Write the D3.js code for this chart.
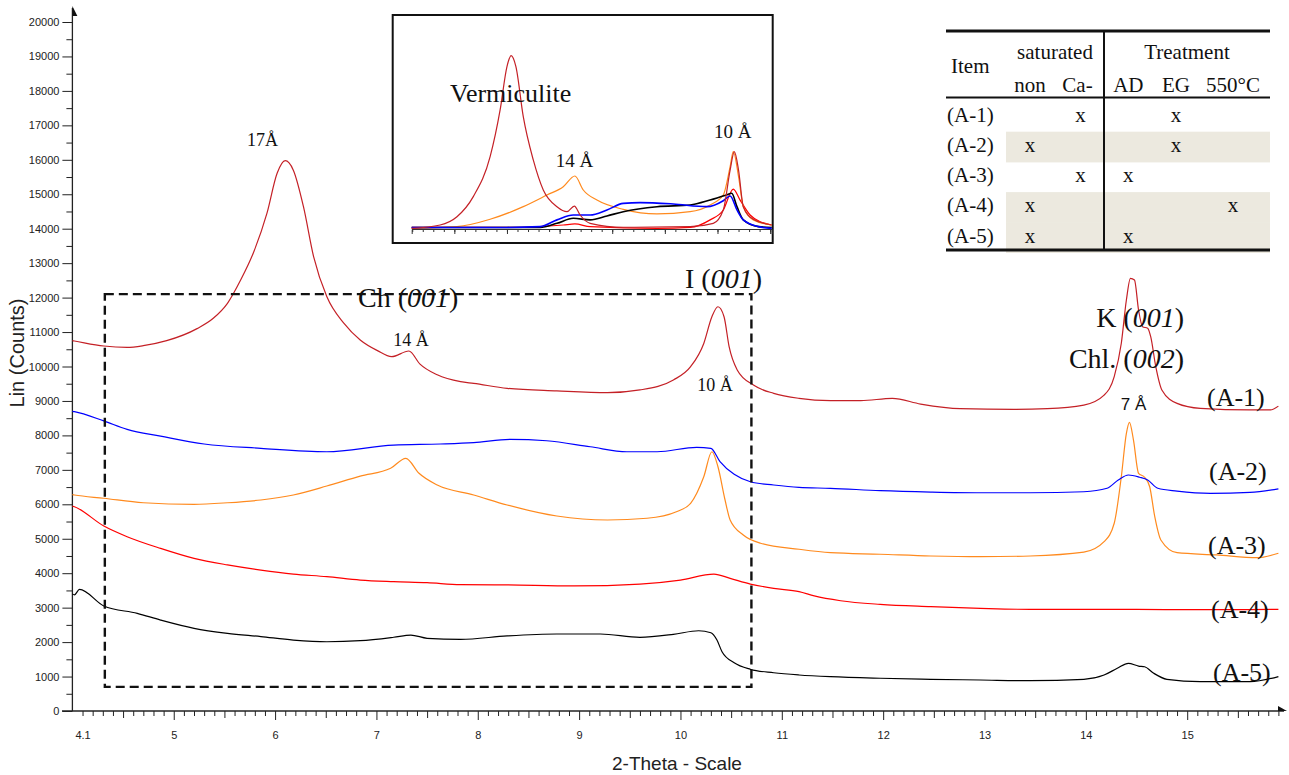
<!DOCTYPE html>
<html><head><meta charset="utf-8">
<script src="https://cdn.jsdelivr.net/npm/d3@7"></script>
<style>body{margin:0;background:#fff}svg{display:block}</style>
</head><body><svg id="c" width="1289" height="775"></svg>
<script>
// ---------- DATA ----------
const seriesNames = ["(A-1)", "(A-2)", "(A-3)", "(A-4)", "(A-5)"];
const seriesColors = ["#c42026", "#0000ff", "#ff8a1e", "#ff0000", "#000000"];

// main pattern: [2-theta, counts]
const a1 = [[4.0,10750],[4.02,10740],[4.31,10595],[4.54,10557],[4.70,10605],[4.93,10750],[5.23,11100],[5.39,11400],[5.53,11835],[5.66,12510],[5.79,13330],[5.92,14450],[6.02,15610],[6.10,15975],[6.18,15700],[6.28,14640],[6.38,13190],[6.51,12030],[6.68,11250],[6.84,10770],[7.01,10460],[7.15,10285],[7.32,10450],[7.43,10070],[7.60,9760],[7.83,9560],[7.96,9510],[8.29,9365],[8.78,9290],[9.28,9240],[9.60,9320],[9.93,9610],[10.10,9995],[10.23,10670],[10.31,11445],[10.37,11735],[10.43,11445],[10.48,10575],[10.56,9900],[10.72,9460],[10.92,9220],[11.17,9075],[11.48,9010],[11.78,9010],[12.09,9075],[12.37,8910],[12.76,8775],[13.29,8757],[13.62,8775],[13.98,8880],[14.18,9170],[14.28,9705],[14.35,10675],[14.40,11930],[14.44,12560],[14.48,12510],[14.52,11640],[14.56,11155],[14.61,11110],[14.64,10865],[14.69,9995],[14.75,9320],[14.90,8930],[15.13,8785],[15.62,8740],[15.82,8740],[15.9,8850]];
const a2 = [[4.0,8700],[4.02,8690],[4.31,8420],[4.54,8175],[4.87,7980],[5.30,7750],[5.86,7625],[6.51,7525],[7.17,7720],[7.63,7750],[7.96,7790],[8.32,7885],[8.68,7845],[9.11,7670],[9.47,7525],[9.77,7525],[10.16,7655],[10.30,7625],[10.39,7240],[10.53,6870],[10.69,6655],[10.92,6560],[11.17,6490],[11.48,6465],[11.97,6395],[12.47,6355],[12.96,6335],[13.45,6335],[13.98,6365],[14.21,6465],[14.32,6705],[14.42,6850],[14.53,6785],[14.61,6705],[14.71,6465],[14.90,6385],[15.23,6320],[15.62,6345],[15.9,6450]];
const a3 = [[4.0,6280],[4.02,6270],[4.31,6175],[4.70,6045],[5.20,6000],[5.53,6045],[5.86,6125],[6.18,6270],[6.51,6530],[6.84,6820],[7.14,7045],[7.29,7335],[7.42,6900],[7.60,6560],[7.96,6270],[8.29,5980],[8.78,5660],[9.28,5545],[9.67,5595],[9.96,5785],[10.10,6030],[10.23,6800],[10.31,7525],[10.37,7090],[10.44,6125],[10.49,5545],[10.62,5110],[10.79,4870],[11.17,4695],[11.48,4595],[11.97,4550],[12.47,4500],[12.96,4480],[13.45,4500],[13.98,4610],[14.18,4915],[14.28,5450],[14.35,6800],[14.40,8060],[14.43,8380],[14.47,7865],[14.52,6900],[14.58,6785],[14.63,6510],[14.68,5640],[14.74,4965],[14.90,4595],[15.29,4530],[15.69,4450],[15.9,4580]];
const a4 = [[4.0,5950],[4.02,5930],[4.31,5370],[4.54,5060],[4.87,4720],[5.20,4430],[5.53,4240],[5.86,4090],[6.18,3975],[6.51,3900],[6.84,3800],[7.17,3755],[7.50,3725],[7.83,3670],[8.29,3660],[8.95,3630],[9.60,3685],[10.0,3800],[10.33,3975],[10.49,3850],[10.69,3685],[10.92,3560],[11.17,3465],[11.32,3340],[11.58,3200],[11.97,3095],[12.47,3030],[12.96,2980],[13.45,2950],[13.95,2950],[14.5,2950],[15.0,2940],[15.9,2950]];
const a5 = [[4.0,3400],[4.02,3370],[4.07,3530],[4.31,3050],[4.64,2835],[4.87,2640],[5.20,2400],[5.53,2255],[5.86,2160],[6.18,2060],[6.51,2010],[6.84,2040],[7.17,2140],[7.34,2205],[7.50,2110],[7.83,2080],[8.29,2180],[8.78,2235],[9.21,2235],[9.60,2140],[9.93,2225],[10.18,2330],[10.30,2270],[10.36,2060],[10.41,1720],[10.53,1400],[10.69,1210],[10.92,1110],[11.17,1045],[11.48,995],[11.97,950],[12.47,920],[12.96,900],[13.45,880],[13.98,920],[14.18,1045],[14.31,1240],[14.42,1385],[14.52,1305],[14.58,1285],[14.67,1095],[14.80,920],[15.13,850],[15.62,850],[15.9,1000]];

// inset (background-subtracted): [2-theta, intensity]
const inA1 = [[4.19,20],[4.73,127],[5.05,390],[5.36,1030],[5.68,2300],[5.87,3785],[6.0,5165],[6.08,5515],[6.17,5165],[6.31,3570],[6.50,2195],[6.69,1240],[6.95,710],[7.14,550],[7.28,730],[7.39,445],[7.58,180],[8.21,55],[9.48,75],[9.92,180],[10.11,605],[10.24,1875],[10.32,2460],[10.40,1875],[10.49,710],[10.68,310],[11.03,127]];
const inA3 = [[4.19,20],[5.05,75],[5.68,310],[6.31,710],[6.76,1080],[7.07,1345],[7.29,1685],[7.45,1240],[7.71,920],[8.21,625],[8.85,480],[9.48,550],[9.86,765],[10.11,1080],[10.24,1980],[10.30,2460],[10.40,1665],[10.49,710],[10.68,290],[11.03,127]];
const inA2 = [[4.19,50],[5.0,50],[6.0,50],[6.63,75],[6.95,290],[7.26,445],[7.58,445],[7.90,605],[8.21,815],[8.53,840],[9.16,795],[9.80,710],[10.11,900],[10.24,1050],[10.37,605],[10.49,290],[10.78,75],[11.03,20]];
const inA5 = [[4.19,50],[5.5,50],[6.63,50],[6.95,180],[7.26,340],[7.58,290],[7.90,415],[8.21,550],[8.85,710],[9.48,765],[9.86,920],[10.17,1080],[10.27,1135],[10.37,710],[10.49,290],[10.78,75],[11.03,50]];
const inA4 = [[4.19,50],[6.0,50],[7.07,127],[7.29,160],[7.58,75],[8.85,20],[9.48,50],[9.86,290],[10.11,605],[10.30,1270],[10.43,920],[10.62,445],[10.80,240],[11.03,127]];

const yMajorTicks = d3.range(0, 20001, 1000);
const yMinorTicks = d3.range(500, 20000, 1000);
const xTickLabels = [4.1, 5, 6, 7, 8, 9, 10, 11, 12, 13, 14, 15];

const tableRows = ["(A-1)", "(A-2)", "(A-3)", "(A-4)", "(A-5)"];
const tableCols = ["non", "Ca-", "AD", "EG", "550°C"];
const tableMarks = [[0,1,0,1,0],[1,0,0,1,0],[0,1,1,0,0],[1,0,0,0,1],[1,0,1,0,0]];
const tableShaded = [false, true, false, true, true];

// ---------- DRAW ----------
const svg = d3.select("#c");
const sans = "Arial, 'Liberation Sans', sans-serif";
const serif = "'Times New Roman', 'Liberation Serif', serif";

const x = d3.scaleLinear().domain([4.0, 15.9]).range([72.4, 1278.4]);
const y = d3.scaleLinear().domain([0, 20000]).range([711, 22]);

// Y axis
const gy = svg.append("g").attr("transform", `translate(${x(4.0)},0)`);
gy.call(d3.axisLeft(y).tickValues(yMajorTicks).tickSize(10).tickPadding(3).tickFormat(d3.format("d")));
gy.append("g").call(d3.axisLeft(y).tickValues(yMinorTicks).tickSize(6).tickFormat(""));
gy.selectAll(".domain").remove();
gy.selectAll("text").attr("font-family", sans).attr("font-size", 11).attr("fill", "#222");
gy.selectAll("line").attr("stroke", "#222");

// X axis
const gx = svg.append("g").attr("transform", `translate(0,${y(0)})`);
const minor = d3.range(41, 160).map(d => d / 10).filter(d => Math.round(d * 10) % 5 !== 0);
const medium = d3.range(4.5, 15.9, 1);
const major = d3.range(5, 16, 1);
gx.append("g").call(d3.axisBottom(x).tickValues(minor).tickSize(5).tickFormat(""));
gx.append("g").call(d3.axisBottom(x).tickValues(medium).tickSize(7).tickFormat(""));
gx.append("g").call(d3.axisBottom(x).tickValues(major).tickSize(9).tickFormat(""));
gx.append("g").call(d3.axisBottom(x).tickValues(xTickLabels).tickSize(0).tickPadding(20).tickFormat(d => d));
gx.selectAll(".domain").remove();
gx.selectAll("text").attr("font-family", sans).attr("font-size", 11).attr("fill", "#222");
gx.selectAll("line").attr("stroke", "#222");

// axis lines + arrows
svg.append("line").attr("x1", x(4.0)).attr("x2", x(4.0)).attr("y1", y(0)).attr("y2", 8).attr("stroke", "#222").attr("stroke-width", 1.3);
svg.append("line").attr("x1", 62).attr("x2", 1284).attr("y1", y(0)).attr("y2", y(0)).attr("stroke", "#222").attr("stroke-width", 1.3);
svg.append("path").attr("d", `M${x(4.0)},6 L${x(4.0)+5},16 L${x(4.0)},16 Z`).attr("fill", "#111");
svg.append("path").attr("d", `M1287,${y(0)} L1278,${y(0)-5} L1278,${y(0)} Z`).attr("fill", "#111");

// axis titles
svg.append("text").attr("x", 677).attr("y", 770).attr("text-anchor", "middle")
  .attr("font-family", sans).attr("font-size", 19).attr("fill", "#222").text("2-Theta - Scale");
svg.append("text").attr("transform", "translate(24,353) rotate(-90)").attr("text-anchor", "middle")
  .attr("font-family", sans).attr("font-size", 20).attr("fill", "#222").text("Lin (Counts)");

// series lines
const line = d3.line().x(d => x(d[0])).y(d => y(d[1])).curve(d3.curveMonotoneX);
const allSeries = [a1, a2, a3, a4, a5];
// label behind dashed box
const chl = svg.append("text").attr("x", 358).attr("y", 307).attr("font-family", serif).attr("font-size", 28).attr("fill", "#111");
chl.append("tspan").text("Ch (");
chl.append("tspan").attr("font-style", "italic").text("001");
chl.append("tspan").text(")");

allSeries.slice().reverse().forEach((s, i) => {
  const idx = allSeries.length - 1 - i;
  svg.append("path").datum(s).attr("d", line).attr("fill", "none")
    .attr("stroke", seriesColors[idx]).attr("stroke-width", 1.2);
});

// dashed box (data coords)
svg.append("rect").attr("x", x(4.32)).attr("y", y(12100)).attr("width", x(10.7) - x(4.32)).attr("height", y(700) - y(12100))
  .attr("fill", "none").attr("stroke", "#111").attr("stroke-width", 2.4).attr("stroke-dasharray", "9,5");

// peak labels
function txt(xp, yp, t, size, fam, anchor) {
  return svg.append("text").attr("x", xp).attr("y", yp).attr("font-family", fam).attr("font-size", size)
    .attr("fill", "#111").attr("text-anchor", anchor || "start").text(t);
}
txt(262.5, 146, "17Å", 18, serif, "middle");
txt(411, 346, "14 Å", 18, serif, "middle");
txt(715, 391, "10 Å", 18, serif, "middle");
txt(1133.5, 410, "7 Å", 17, sans, "middle");

function miller(xp, yp, pre, idx, anchor) {
  const t = svg.append("text").attr("x", xp).attr("y", yp).attr("font-family", serif).attr("font-size", 28)
    .attr("fill", "#111").attr("text-anchor", anchor || "start");
  t.append("tspan").text(pre + "(");
  t.append("tspan").attr("font-style", "italic").text(idx);
  t.append("tspan").text(")");
}
miller(685, 288, "I ", "001");
miller(1184, 327, "K ", "001", "end");
miller(1184, 368, "Chl. ", "002", "end");

const labelPos = [[1207, 406], [1209, 480], [1208, 554], [1211, 618], [1213, 681]];
seriesNames.forEach((n, i) => txt(labelPos[i][0], labelPos[i][1], n, 26, serif));

// ---------- INSET ----------
const inset = svg.append("g");
inset.append("rect").attr("x", 392.7).attr("y", 15).attr("width", 380).attr("height", 228)
  .attr("fill", "#fff").attr("stroke", "#111").attr("stroke-width", 2);
const ix = d3.scaleLinear().domain([4.19, 11.03]).range([411.7, 771.7]);
const iy = d3.scaleLinear().domain([0, 6000]).range([229, 40.3]);
const ig = inset.append("g").attr("transform", `translate(0,${iy(0)})`);
ig.call(d3.axisBottom(ix).tickValues(d3.range(4.2, 11.01, 0.2)).tickSize(3).tickFormat("").tickSizeOuter(0));
ig.append("g").call(d3.axisBottom(ix).tickValues(d3.range(5, 11.01, 1)).tickSize(5).tickFormat(""));
ig.selectAll(".domain").attr("stroke", "#333");
ig.selectAll("line").attr("stroke", "#333");
const iline = d3.line().x(d => ix(d[0])).y(d => iy(d[1])).curve(d3.curveMonotoneX);
[[inA4, 3], [inA3, 2], [inA5, 4], [inA2, 1], [inA1, 0]].forEach(([s, c]) => {
  inset.append("path").datum(s).attr("d", iline).attr("fill", "none")
    .attr("stroke", seriesColors[c]).attr("stroke-width", c === 1 || c === 4 ? 1.6 : 1.2);
});
inset.append("text").attr("x", 450).attr("y", 101.7).attr("font-family", serif).attr("font-size", 26).attr("fill", "#111").text("Vermiculite");
inset.append("text").attr("x", 555.7).attr("y", 166.7).attr("font-family", serif).attr("font-size", 19).attr("fill", "#111").text("14 Å");
inset.append("text").attr("x", 714).attr("y", 138.3).attr("font-family", serif).attr("font-size", 19).attr("fill", "#111").text("10 Å");

// ---------- TABLE ----------
const tb = svg.append("g").attr("font-family", serif).attr("fill", "#111");
const colX = [1030, 1080.5, 1128.3, 1176, 1233];
const rowTop = 101.5, rowH = 30.2;
tableShaded.forEach((s, i) => {
  if (s) tb.append("rect").attr("x", 1006).attr("y", rowTop + i * rowH).attr("width", 264).attr("height", rowH + 0.5).attr("fill", "#ece9df");
});
tb.append("line").attr("x1", 946).attr("x2", 1270).attr("y1", 31).attr("y2", 31).attr("stroke", "#111").attr("stroke-width", 3);
tb.append("line").attr("x1", 946).attr("x2", 1270).attr("y1", 97.5).attr("y2", 97.5).attr("stroke", "#111").attr("stroke-width", 2);
tb.append("line").attr("x1", 946).attr("x2", 1270).attr("y1", 250).attr("y2", 250).attr("stroke", "#111").attr("stroke-width", 3);
tb.append("line").attr("x1", 1104).attr("x2", 1104).attr("y1", 31).attr("y2", 250).attr("stroke", "#111").attr("stroke-width", 2);
tb.append("text").attr("x", 951).attr("y", 72.7).attr("font-size", 21).text("Item");
tb.append("text").attr("x", 1055).attr("y", 59.3).attr("font-size", 21).attr("text-anchor", "middle").text("saturated");
tb.append("text").attr("x", 1187).attr("y", 59.3).attr("font-size", 21).attr("text-anchor", "middle").text("Treatment");
const headX = [1030, 1077.5, 1128.3, 1176, 1233];
tableCols.forEach((c, j) => tb.append("text").attr("x", headX[j]).attr("y", 91.7).attr("font-size", 21).attr("text-anchor", "middle").text(c));
tableRows.forEach((r, i) => {
  const by = 121.7 + i * rowH;
  tb.append("text").attr("x", 947).attr("y", by).attr("font-size", 21).text(r);
  tableMarks[i].forEach((m, j) => {
    if (m) tb.append("text").attr("x", colX[j]).attr("y", by).attr("font-size", 21).attr("text-anchor", "middle").text("x");
  });
});
</script>
</body></html>
